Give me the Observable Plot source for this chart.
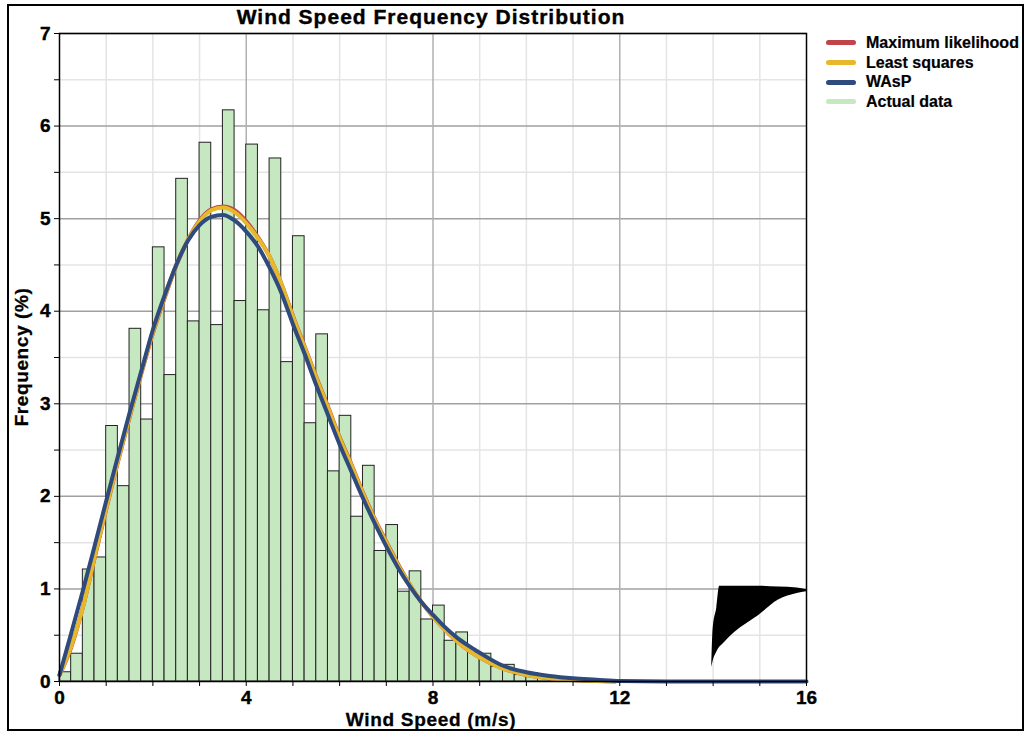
<!DOCTYPE html>
<html>
<head>
<meta charset="utf-8">
<script src="https://cdn.jsdelivr.net/npm/d3@7"></script>
<script src="https://cdn.jsdelivr.net/npm/@observablehq/plot@0.6"></script>
<style>
  html, body { margin: 0; padding: 0; background: #fff; }
  #wrap { position: relative; width: 1030px; height: 733px; overflow: hidden; font-family: "Liberation Sans", Arial, sans-serif; font-weight: bold; color: #000; }
  #border { position: absolute; left: 7px; top: 4px; width: 1013px; height: 723px; border: 2px solid #000; pointer-events: none; }
  #chart { position: absolute; left: 0; top: 0; }
  .title { position: absolute; left: 0; width: 862px; top: 5px; text-align: center; font-size: 21px; line-height: 24px; letter-spacing: 1px; -webkit-text-stroke: 0.4px #000; }
  .xlabel { position: absolute; left: 0; width: 862px; top: 710px; text-align: center; font-size: 19px; line-height: 19px; letter-spacing: 0.7px; -webkit-text-stroke: 0.3px #000; }
  .ylabel { position: absolute; left: 22px; top: 357px; transform: translate(-50%, -50%) rotate(-90deg); font-size: 19px; line-height: 20px; letter-spacing: 0.6px; white-space: nowrap; -webkit-text-stroke: 0.3px #000; }
  #legend { position: absolute; left: 826px; top: 33px; width: 194px; font-size: 16px; -webkit-text-stroke: 0.2px #000; }
  .item { display: flex; align-items: center; height: 19.7px; white-space: nowrap; }
  .sw { width: 30px; height: 5px; border-radius: 3px; margin-right: 10px; flex: none; }
  #chart svg g[aria-label$="tick label"] text { stroke: #000; stroke-width: 0.4px; }
</style>
</head>
<body>
<div id="wrap">
  <div id="chart"></div>
  <div class="title">Wind Speed Frequency Distribution</div>
  <div class="xlabel">Wind Speed (m/s)</div>
  <div class="ylabel">Frequency (%)</div>
  <div id="legend"></div>
  <div id="border"></div>
</div>
<script>
// ---- data ----
const binWidth = 0.25;
const binStart = [0,0.25,0.5,0.75,1,1.25,1.5,1.75,2,2.25,2.5,2.75,3,3.25,3.5,3.75,4,4.25,4.5,4.75,5,5.25,5.5,5.75,6,6.25,6.5,6.75,7,7.25,7.5,7.75,8,8.25,8.5,8.75,9,9.25,9.5,9.75,10,10.25,10.5,10.75,11,11.25,11.5];
const actualFreq = [0.10,0.30,1.21,1.34,2.76,2.11,3.81,2.83,4.69,3.31,5.43,3.89,5.82,3.85,6.17,4.11,5.80,4.01,5.65,3.45,4.81,2.79,3.75,2.27,2.87,1.78,2.33,1.41,1.69,0.97,1.19,0.67,0.82,0.44,0.53,0.31,0.30,0.16,0.18,0.07,0.09,0.05,0.04,0.025,0.015,0.01,0.005];

const fitX = [0,0.25,0.5,0.75,1,1.25,1.5,1.75,2,2.25,2.5,2.75,3,3.25,3.5,3.75,4,4.25,4.5,4.75,5,5.25,5.5,5.75,6,6.25,6.5,6.75,7,7.25,7.5,7.75,8,8.25,8.5,8.75,9,9.5,10,10.5,11,11.5,11.9];
const maxLikelihood = [0.07,0.37,0.80,1.33,1.86,2.37,2.85,3.32,3.76,4.14,4.49,4.77,4.98,5.10,5.13,5.09,4.97,4.80,4.59,4.30,3.95,3.62,3.29,2.97,2.64,2.35,2.04,1.76,1.51,1.27,1.05,0.86,0.70,0.56,0.44,0.34,0.26,0.14,0.07,0.035,0.015,0.005,0];
const leastSquares = [0.07,0.38,0.80,1.34,1.87,2.38,2.86,3.33,3.77,4.15,4.50,4.77,4.97,5.09,5.12,5.07,4.95,4.79,4.59,4.30,3.94,3.61,3.28,2.96,2.63,2.34,2.03,1.75,1.50,1.26,1.05,0.86,0.70,0.56,0.44,0.34,0.26,0.14,0.07,0.035,0.015,0.005,0];
const waspX = [0,0.25,0.5,0.75,1,1.25,1.5,1.75,2,2.25,2.5,2.75,3,3.25,3.5,3.75,4,4.25,4.5,4.75,5,5.25,5.5,5.75,6,6.25,6.5,6.75,7,7.25,7.5,7.75,8,8.25,8.5,8.75,9,9.5,10,10.5,11,11.5,12,13,16];
const wasp = [0.07,0.52,0.98,1.46,1.95,2.43,2.90,3.35,3.80,4.17,4.50,4.76,4.93,5.02,5.04,4.98,4.86,4.70,4.47,4.20,3.86,3.54,3.20,2.88,2.56,2.27,1.98,1.71,1.46,1.23,1.03,0.86,0.72,0.59,0.48,0.39,0.31,0.17,0.10,0.06,0.035,0.02,0.005,0,0];

// black blot (rendering artefact in the reference)
const blotX    = [13.97,14.0,14.08,14.14,14.18,14.46,14.97,15.4,15.8,16.0];
const blotLow  = [0.15,0.22,0.32,0.37,0.39,0.53,0.71,0.88,0.95,0.97];
const blotHigh = [0.15,0.57,0.80,1.03,1.03,1.03,1.03,1.02,1.01,0.99];

const yTicks = [0,1,2,3,4,5,6,7];
const xTicks = [0,4,8,12,16];

const seriesNames = ["Maximum likelihood","Least squares","WAsP","Actual data"];
const seriesColors = ["#c0444a","#e6b82a","#2f4a7c","#c6e8c0"];

// ---- build tables ----
const bars = binStart.map((s,i) => ({x1: s, x2: s + binWidth, y: actualFreq[i]}));
const mlData = fitX.map((x,i) => ({x, y: maxLikelihood[i]}));
const lsData = fitX.map((x,i) => ({x, y: leastSquares[i]}));
const waspData = waspX.map((x,i) => ({x, y: wasp[i]}));
const blot = blotX.map((x,i) => ({x, y1: blotLow[i], y2: blotHigh[i]}));

const yMinor = d3.range(0.5, 7, 1);
const yAllTicks = d3.range(0, 7.01, 0.5);
const xMinor = d3.range(1, 16, 1).filter(d => !xTicks.includes(d));
const xAllTicks = d3.range(0, 16.01, 1);

const chart = Plot.plot({
  width: 1030,
  height: 733,
  marginLeft: 59,
  marginRight: 224,
  marginTop: 33,
  marginBottom: 52,
  x: {domain: [0, 16]},
  y: {domain: [0, 7]},
  style: {fontFamily: "'Liberation Sans', Arial, sans-serif", fontWeight: "bold", fontSize: "19px", background: "transparent"},
  marks: [
    Plot.ruleY(yMinor, {stroke: "#e4e4e4", strokeWidth: 1.5}),
    Plot.ruleX(xMinor, {stroke: "#e4e4e4", strokeWidth: 1.5}),
    Plot.ruleY(yTicks.slice(1), {stroke: "#a0a0a0", strokeWidth: 1.5}),
    Plot.ruleX(xTicks.slice(1, -1), {stroke: "#b0b0b0", strokeWidth: 1.5}),
    Plot.rectY(bars, {x1: "x1", x2: "x2", y: "y", fill: seriesColors[3], stroke: "#222", strokeWidth: 1}),
    Plot.line(mlData, {x: "x", y: "y", stroke: seriesColors[0], strokeWidth: 4, curve: "monotone-x"}),
    Plot.line(lsData, {x: "x", y: "y", stroke: seriesColors[1], strokeWidth: 4, curve: "monotone-x"}),
    Plot.line(waspData, {x: "x", y: "y", stroke: seriesColors[2], strokeWidth: 4, curve: "monotone-x"}),
    Plot.areaY(blot, {x: "x", y1: "y1", y2: "y2", fill: "#000", curve: "monotone-x"}),
    Plot.frame({stroke: "#000", strokeWidth: 1.5}),
    Plot.axisY({ticks: yAllTicks, tickSize: 5, tickPadding: 4, fontSize: 19,
      tickFormat: d => Number.isInteger(d) ? String(d) : "", label: null}),
    Plot.axisX({ticks: xAllTicks, tickSize: 5, tickPadding: 4, fontSize: 19,
      tickFormat: d => xTicks.includes(d) ? String(d) : "", label: null})
  ]
});
document.getElementById("chart").appendChild(chart);

const legend = document.getElementById("legend");
seriesNames.forEach((name, i) => {
  const row = document.createElement("div");
  row.className = "item";
  const sw = document.createElement("span");
  sw.className = "sw";
  sw.style.background = seriesColors[i];
  const t = document.createElement("span");
  t.textContent = name;
  row.appendChild(sw);
  row.appendChild(t);
  legend.appendChild(row);
});
</script>
</body>
</html>
